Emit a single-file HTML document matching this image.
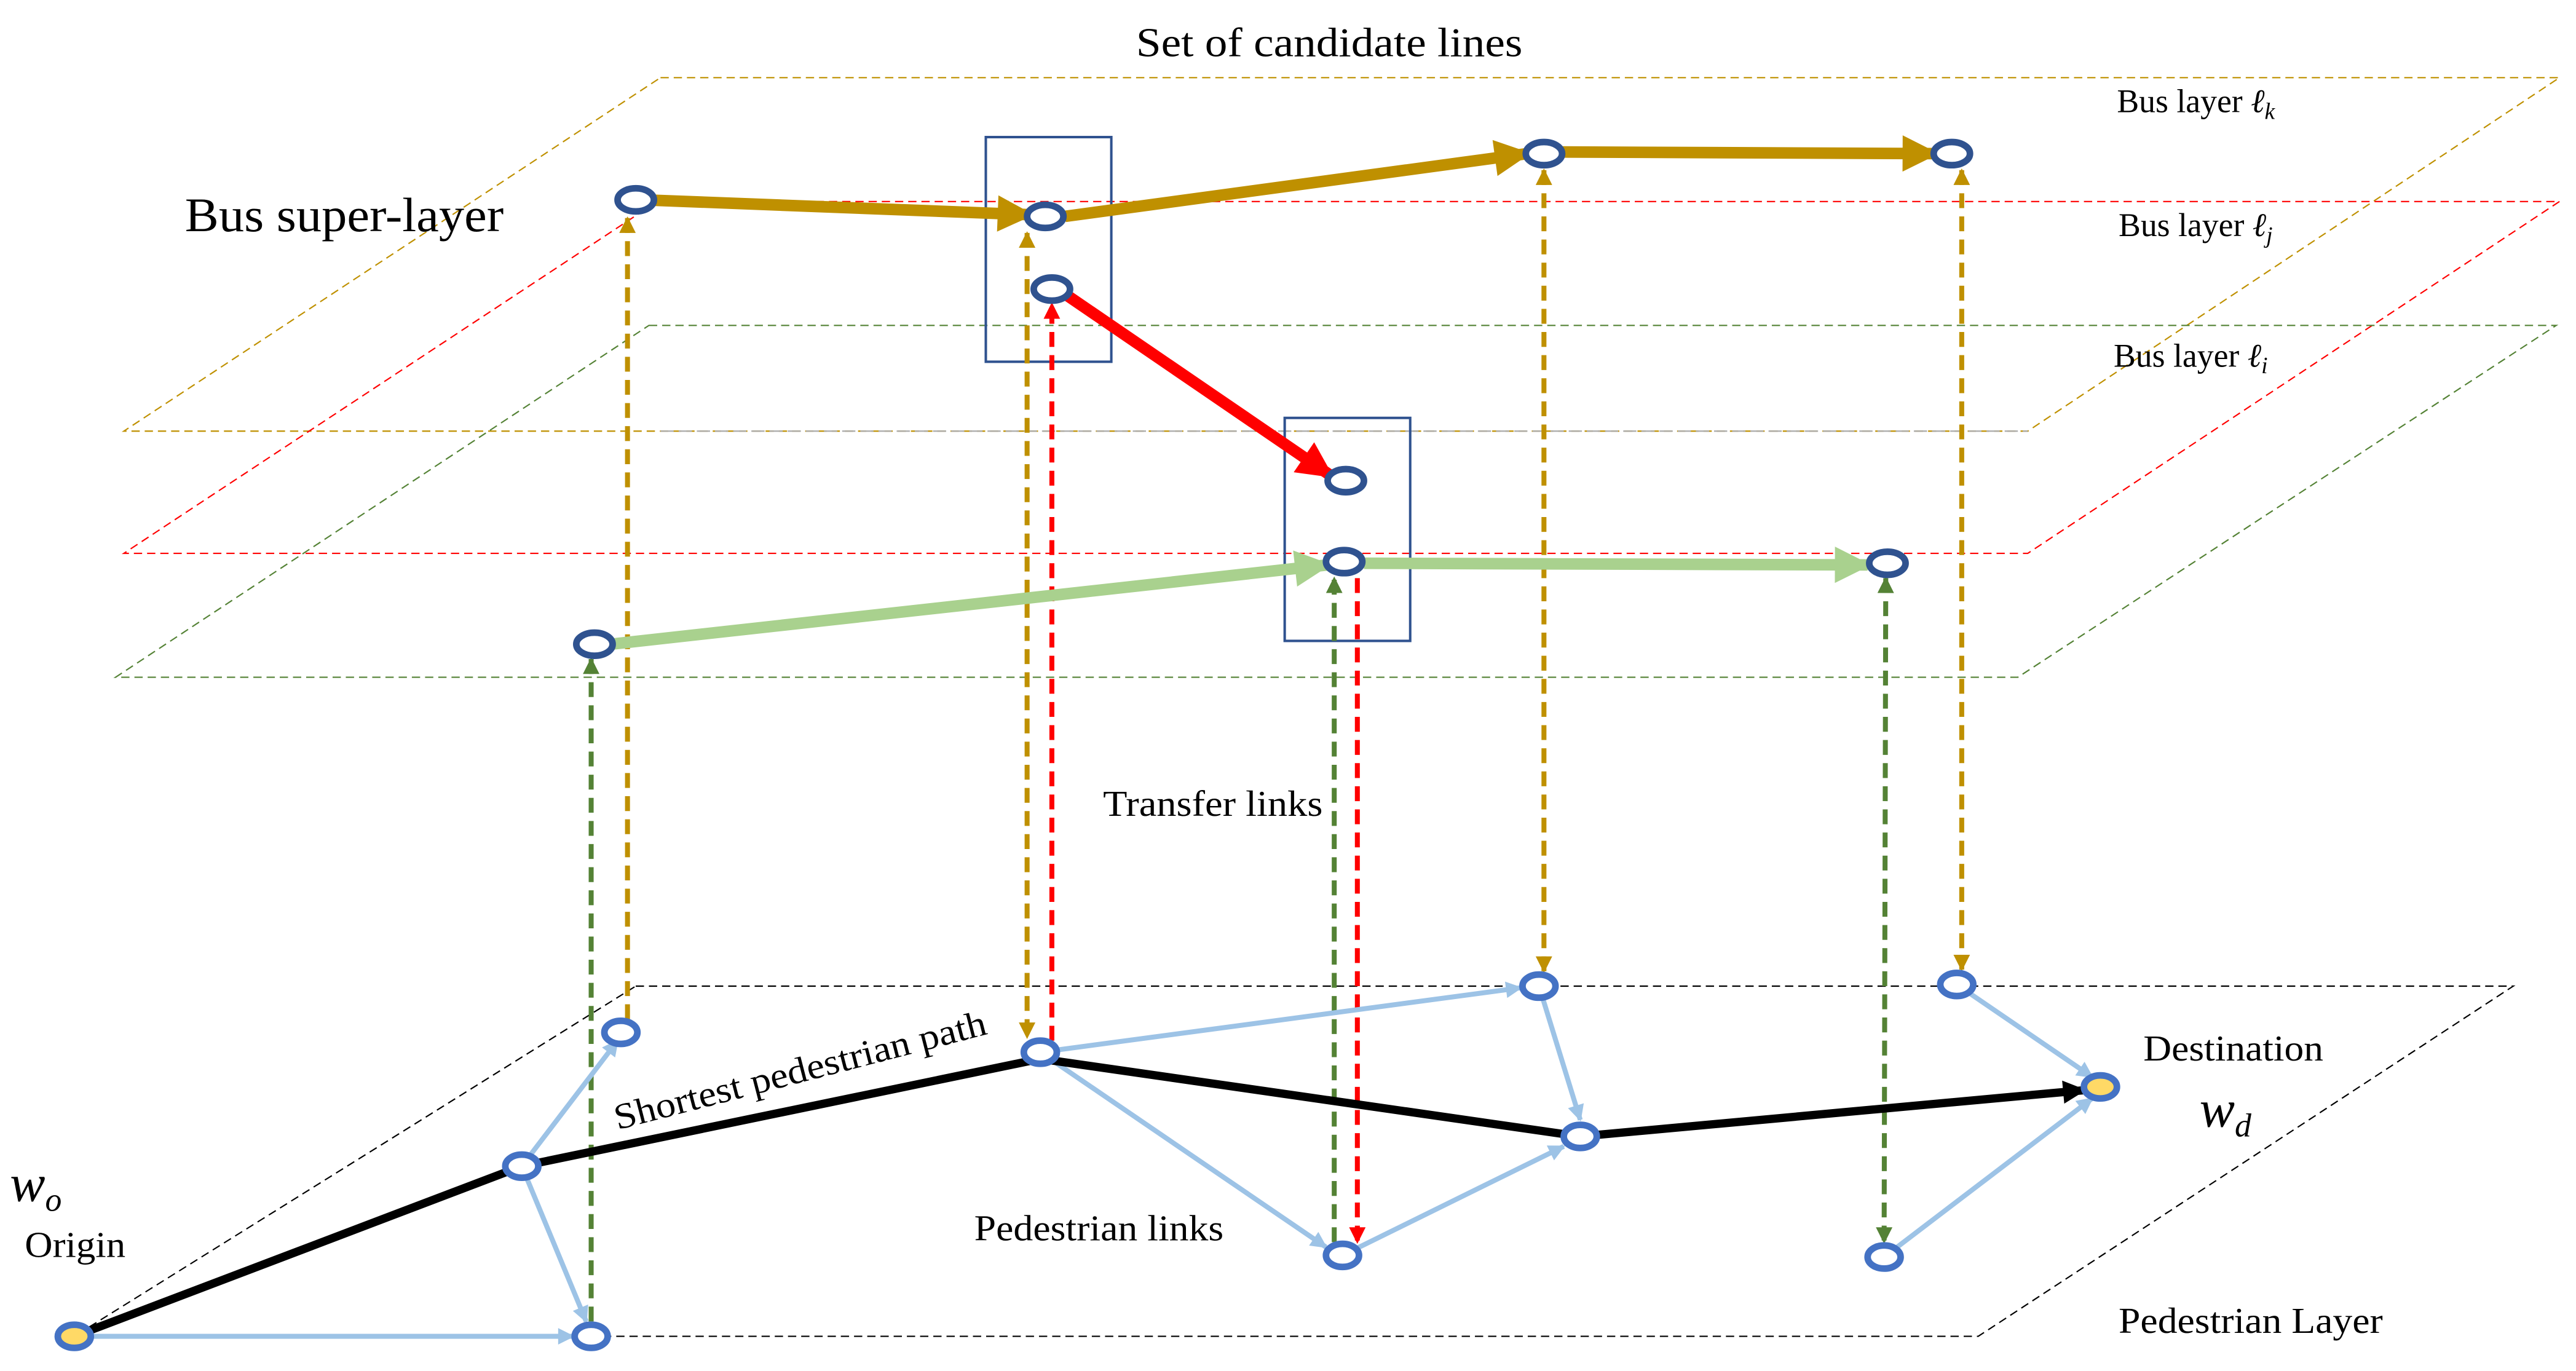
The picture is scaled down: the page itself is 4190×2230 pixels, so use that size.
<!DOCTYPE html>
<html><head><meta charset="utf-8"><style>html,body{margin:0;padding:0;background:#fff}svg{display:block}</style></head>
<body>
<svg width="4190" height="2230" viewBox="0 0 1560 830" preserveAspectRatio="none" xmlns="http://www.w3.org/2000/svg" font-family="Liberation Serif, serif">
<defs>
<marker id="ay" viewBox="0 0 10 10" refX="9" refY="5" markerWidth="26" markerHeight="22" markerUnits="userSpaceOnUse" orient="auto-start-reverse"><path d="M0,0L10,5L0,10z" fill="#BF9000"/></marker>
<marker id="ar" viewBox="0 0 10 10" refX="9" refY="5" markerWidth="26" markerHeight="22" markerUnits="userSpaceOnUse" orient="auto-start-reverse"><path d="M0,0L10,5L0,10z" fill="#FF0000"/></marker>
<marker id="ag" viewBox="0 0 10 10" refX="9" refY="5" markerWidth="26" markerHeight="22" markerUnits="userSpaceOnUse" orient="auto-start-reverse"><path d="M0,0L10,5L0,10z" fill="#A9D18E"/></marker>
<marker id="ak" viewBox="0 0 10 10" refX="9" refY="5" markerWidth="18" markerHeight="14" markerUnits="userSpaceOnUse" orient="auto-start-reverse"><path d="M0,0L10,5L0,10z" fill="#000"/></marker>
<marker id="ab" viewBox="0 0 10 10" refX="9" refY="5" markerWidth="12" markerHeight="10" markerUnits="userSpaceOnUse" orient="auto-start-reverse"><path d="M0,0L10,5L0,10z" fill="#9DC3E6"/></marker>
<marker id="vy" viewBox="0 0 10 10" refX="9" refY="5" markerWidth="12" markerHeight="10" markerUnits="userSpaceOnUse" orient="auto-start-reverse"><path d="M0,0L10,5L0,10z" fill="#BF9000"/></marker>
<marker id="vr" viewBox="0 0 10 10" refX="9" refY="5" markerWidth="12" markerHeight="10" markerUnits="userSpaceOnUse" orient="auto-start-reverse"><path d="M0,0L10,5L0,10z" fill="#FF0000"/></marker>
<marker id="vg" viewBox="0 0 10 10" refX="9" refY="5" markerWidth="12" markerHeight="10" markerUnits="userSpaceOnUse" orient="auto-start-reverse"><path d="M0,0L10,5L0,10z" fill="#548235"/></marker>
</defs>
<g fill="none" stroke-width="0.8" stroke-dasharray="5,3">
<polygon points="400,47 1550,47 1228,261 75,261" stroke="#BF9000"/>
<polygon points="398,122 1550,122 1228,335 75,335" stroke="#FF0000"/>
<polygon points="393,197 1548,197 1222,410 70,410" stroke="#548235"/>
<polygon points="385,597 1522,597 1198,809 45,809" stroke="#000"/>
</g>
<line x1="400" y1="261" x2="1228" y2="261" stroke="#aaa" stroke-width="0.8" stroke-dasharray="8,3"/>
<rect x="597" y="83" width="76" height="136" fill="none" stroke="#2F528F" stroke-width="1.5"/>
<rect x="778" y="253" width="76" height="135" fill="none" stroke="#2F528F" stroke-width="1.5"/>
<g fill="none" stroke-width="3" stroke-dasharray="9,5">
<line x1="380" y1="617" x2="380" y2="132" stroke="#BF9000" marker-end="url(#vy)"/>
<line x1="358" y1="800" x2="358" y2="399" stroke="#548235" marker-end="url(#vg)"/>
<line x1="622" y1="141" x2="622" y2="628" stroke="#BF9000" marker-start="url(#vy)" marker-end="url(#vy)"/>
<line x1="637" y1="630" x2="637" y2="184" stroke="#FF0000" marker-end="url(#vr)"/>
<line x1="808" y1="752" x2="808" y2="350" stroke="#548235" marker-end="url(#vg)"/>
<line x1="822" y1="350" x2="822" y2="752" stroke="#FF0000" marker-end="url(#vr)"/>
<line x1="935" y1="103" x2="935" y2="588" stroke="#BF9000" marker-start="url(#vy)" marker-end="url(#vy)"/>
<line x1="1188" y1="103" x2="1188" y2="587" stroke="#BF9000" marker-start="url(#vy)" marker-end="url(#vy)"/>
<line x1="1142" y1="350" x2="1141" y2="752" stroke="#548235" marker-start="url(#vg)" marker-end="url(#vg)"/>
</g>
<g fill="none" stroke-width="7">
<line x1="390" y1="121" x2="624" y2="130" stroke="#BF9000" marker-end="url(#ay)"/>
<line x1="645" y1="131" x2="925" y2="93" stroke="#BF9000" marker-end="url(#ay)"/>
<line x1="945" y1="92" x2="1172" y2="93" stroke="#BF9000" marker-end="url(#ay)"/>
<line x1="645" y1="178" x2="806" y2="288" stroke="#FF0000" marker-end="url(#ar)"/>
<line x1="370" y1="390" x2="804" y2="342" stroke="#A9D18E" marker-end="url(#ag)"/>
<line x1="826" y1="341" x2="1131" y2="342" stroke="#A9D18E" marker-end="url(#ag)"/>
</g>
<g fill="none" stroke="#9DC3E6" stroke-width="3" marker-end="url(#ab)">
<line x1="52" y1="809" x2="347" y2="809"/>
<line x1="316" y1="706" x2="374" y2="630"/>
<line x1="316" y1="706" x2="355" y2="800"/>
<line x1="630" y1="637" x2="921" y2="598"/>
<line x1="630" y1="637" x2="803" y2="755"/>
<line x1="932" y1="597" x2="957" y2="678"/>
<line x1="813" y1="760" x2="947" y2="694"/>
<line x1="1185" y1="596" x2="1267" y2="652"/>
<line x1="1141" y1="761" x2="1267" y2="665"/>
</g>
<polyline points="45,809 316,706 630,641 957,688 1262,660" fill="none" stroke="#000" stroke-width="5" marker-end="url(#ak)"/>
<g fill="#fff" stroke="#2F528F" stroke-width="4">
<ellipse cx="385" cy="121" rx="11" ry="7"/><ellipse cx="633" cy="131" rx="11" ry="7"/>
<ellipse cx="637" cy="175" rx="11" ry="7"/><ellipse cx="935" cy="93" rx="11" ry="7"/>
<ellipse cx="1182" cy="93" rx="11" ry="7"/><ellipse cx="815" cy="291" rx="11" ry="7"/>
<ellipse cx="814" cy="340" rx="11" ry="7"/><ellipse cx="1143" cy="341" rx="11" ry="7"/>
<ellipse cx="360" cy="390" rx="11" ry="7"/>
</g>
<g fill="#fff" stroke="#4472C4" stroke-width="4">
<ellipse cx="376" cy="625" rx="10" ry="7"/><ellipse cx="630" cy="637" rx="10" ry="7"/>
<ellipse cx="932" cy="597" rx="10" ry="7"/><ellipse cx="1185" cy="596" rx="10" ry="7"/>
<ellipse cx="316" cy="706" rx="10" ry="7"/><ellipse cx="957" cy="688" rx="10" ry="7"/>
<ellipse cx="358" cy="809" rx="10" ry="7"/><ellipse cx="813" cy="760" rx="10" ry="7"/>
<ellipse cx="1141" cy="761" rx="10" ry="7"/>
<ellipse cx="1272" cy="658" rx="10" ry="7" fill="#FFD966"/>
<ellipse cx="45" cy="809" rx="10" ry="7" fill="#FFD966"/>
</g>
<g fill="#000">
<text x="688" y="34" font-size="25" textLength="234" lengthAdjust="spacingAndGlyphs">Set of candidate lines</text>
<text x="1282" y="68" font-size="20">Bus layer <tspan font-style="italic">ℓ</tspan><tspan font-style="italic" font-size="14" dy="4">k</tspan></text>
<text x="1283" y="143" font-size="20">Bus layer <tspan font-style="italic">ℓ</tspan><tspan font-style="italic" font-size="14" dy="4">j</tspan></text>
<text x="1280" y="222" font-size="20">Bus layer <tspan font-style="italic">ℓ</tspan><tspan font-style="italic" font-size="14" dy="4">i</tspan></text>
<text x="112" y="140" font-size="29" textLength="193" lengthAdjust="spacingAndGlyphs">Bus super-layer</text>
<text x="668" y="494" font-size="22" textLength="133" lengthAdjust="spacingAndGlyphs">Transfer links</text>
<text x="0" y="0" font-size="22" textLength="232" lengthAdjust="spacingAndGlyphs" transform="translate(374,684) rotate(-14.5)">Shortest pedestrian path</text>
<text x="590" y="751" font-size="22" textLength="151" lengthAdjust="spacingAndGlyphs">Pedestrian links</text>
<text x="1298" y="642" font-size="22" textLength="109" lengthAdjust="spacingAndGlyphs">Destination</text>
<text x="1332" y="682" font-size="32" font-style="italic">w<tspan font-size="20" dy="6">d</tspan></text>
<text x="6" y="727" font-size="32" font-style="italic">w<tspan font-size="20" dy="6">o</tspan></text>
<text x="15" y="761" font-size="22" textLength="61" lengthAdjust="spacingAndGlyphs">Origin</text>
<text x="1283" y="807" font-size="22" textLength="160" lengthAdjust="spacingAndGlyphs">Pedestrian Layer</text>
</g>
</svg>
</body></html>
